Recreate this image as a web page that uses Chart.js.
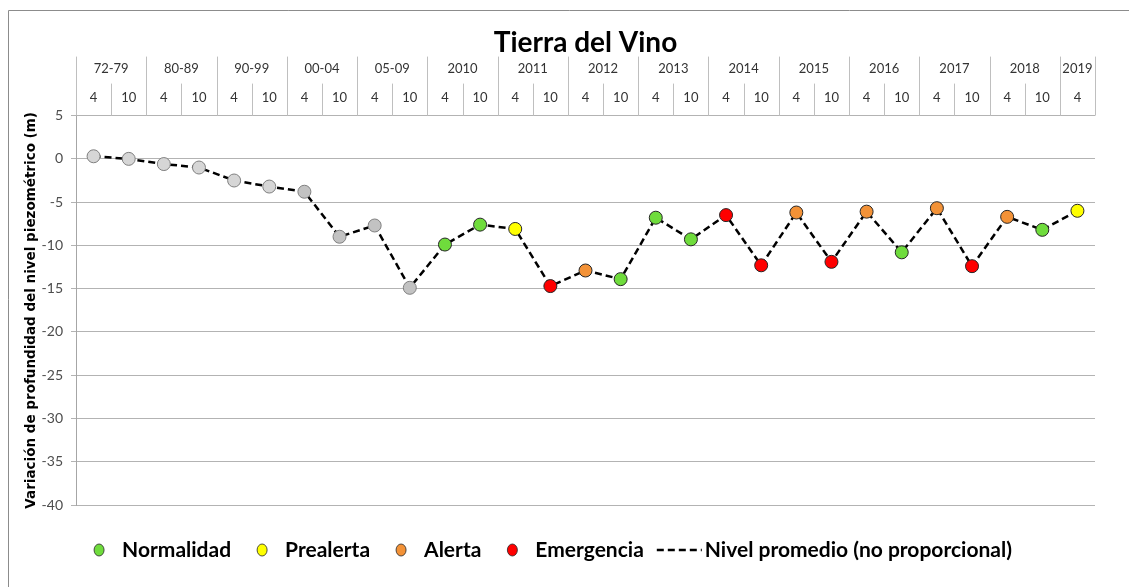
<!DOCTYPE html>
<html>
<head>
<meta charset="utf-8">
<script src="https://cdn.jsdelivr.net/npm/chart.js@4.4.1/dist/chart.umd.min.js"></script>
<style>
  html, body { margin: 0; padding: 0; background: #fff; }
  #wrap { position: relative; width: 1129px; height: 587px; }
</style>
</head>
<body>
<div id="wrap"><canvas id="chart"></canvas></div>
<script>
// Periodo (fila superior de la cabecera) y mes de medida de cada punto
const periodos = ['72-79','72-79','80-89','80-89','90-99','90-99','00-04','00-04','05-09','05-09',
  '2010','2010','2011','2011','2012','2012','2013','2013','2014','2014',
  '2015','2015','2016','2016','2017','2017','2018','2018','2019'];
const meses = ['4','10','4','10','4','10','4','10','4','10',
  '4','10','4','10','4','10','4','10','4','10',
  '4','10','4','10','4','10','4','10','4'];

// Variación de profundidad del nivel piezométrico (m)
const nivel = [0.3, 0.0, -0.6, -1.0, -2.5, -3.2, -3.8, -9.0, -7.7, -14.9,
  -9.9, -7.6, -8.1, -14.7, -12.9, -13.9, -6.8, -9.3, -6.5, -12.3,
  -6.2, -11.9, -6.1, -10.8, -5.7, -12.4, -6.7, -8.2, -6.0];

// Estado de cada medida (null = sin índice de estado)
const estado = [null, null, null, null, null, null, null, null, null, null,
  'Normalidad', 'Normalidad', 'Prealerta', 'Emergencia', 'Alerta', 'Normalidad', 'Normalidad', 'Normalidad', 'Emergencia', 'Emergencia',
  'Alerta', 'Emergencia', 'Alerta', 'Normalidad', 'Alerta', 'Emergencia', 'Alerta', 'Normalidad', 'Prealerta'];

const estados = ['Normalidad', 'Prealerta', 'Alerta', 'Emergencia'];
const coloresEstado = ['#6fdc3c', '#ffff00', '#f39237', '#ff0000'];
const etiquetaLinea = 'Nivel promedio (no proporcional)';

const relleno = estado.map((e, i) => e ? coloresEstado[estados.indexOf(e)] : (i < 6 ? '#d6d6d6' : '#c2c2c2'));
const borde = estado.map(e => e ? '#262626' : '#7f7f7f');

const FONT = 'Lato, "Open Sans", sans-serif';

// Marco exterior del gráfico
const marco = {
  id: 'marco',
  beforeDraw(chart) {
    const ctx = chart.ctx;
    ctx.save();
    ctx.strokeStyle = '#8c8c8c';
    ctx.lineWidth = 1;
    ctx.beginPath();
    ctx.moveTo(8.5, chart.height + 5);
    ctx.lineTo(8.5, 10.5);
    ctx.lineTo(chart.width + 5, 10.5);
    ctx.stroke();
    ctx.restore();
  }
};

// Cabecera de dos filas (periodo / mes) sobre el área de trazado
const cabecera = {
  id: 'cabecera',
  afterDraw(chart) {
    const { ctx, chartArea, scales: { x } } = chart;
    const top = chartArea.top - 59, mid = chartArea.top - 32, bot = chartArea.top;
    const half = (x.getPixelForValue(1) - x.getPixelForValue(0)) / 2;
    ctx.save();
    ctx.strokeStyle = '#bfbfbf';
    ctx.lineWidth = 1;
    ctx.fillStyle = '#333';
    ctx.font = '13px ' + FONT;
    ctx.textAlign = 'center';
    ctx.textBaseline = 'middle';
    let inicio = 0;
    for (let i = 0; i < meses.length; i++) {
      const cx = x.getPixelForValue(i);
      const l = Math.round(cx - half) + 0.5;
      ctx.beginPath();
      ctx.moveTo(l, periodos[i] !== periodos[i - 1] ? top : mid);
      ctx.lineTo(l, bot);
      ctx.stroke();
      ctx.fillText(meses[i], cx, mid + 14);
      if (i === meses.length - 1 || periodos[i + 1] !== periodos[i]) {
        const gx = (x.getPixelForValue(inicio) + cx) / 2;
        ctx.fillText(periodos[i], gx, top + 12);
        inicio = i + 1;
      }
    }
    const r = Math.round(x.getPixelForValue(meses.length - 1) + half) + 0.5;
    ctx.beginPath();
    ctx.moveTo(r, top);
    ctx.lineTo(r, bot);
    ctx.stroke();
    ctx.restore();
  }
};

// Leyenda inferior
const leyenda = {
  id: 'leyenda',
  afterDraw(chart) {
    const ctx = chart.ctx;
    const y = 550;
    ctx.save();
    ctx.font = 'bold 21px ' + FONT;
    ctx.textBaseline = 'middle';
    ctx.fillStyle = '#000';
    const anchos = estados.map(t => 23 + ctx.measureText(t).width + 31);
    const anchoLinea = 48 + ctx.measureText(etiquetaLinea).width;
    const total = anchos.reduce((a, b) => a + b, 0) + anchoLinea;
    let px = chart.width / 2 - total / 2;
    estados.forEach((t, k) => {
      ctx.beginPath();
      ctx.ellipse(px, y, 5, 6, 0, 0, Math.PI * 2);
      ctx.fillStyle = coloresEstado[k];
      ctx.fill();
      ctx.strokeStyle = '#262626';
      ctx.lineWidth = 0.8;
      ctx.stroke();
      ctx.fillStyle = '#000';
      ctx.fillText(t, px + 23, y);
      px += anchos[k];
    });
    px -= 18;
    ctx.strokeStyle = '#000';
    ctx.lineWidth = 2.5;
    ctx.setLineDash([7, 4]);
    ctx.beginPath();
    ctx.moveTo(px, y);
    ctx.lineTo(px + 45, y);
    ctx.stroke();
    ctx.setLineDash([]);
    ctx.fillText(etiquetaLinea, px + 48, y);
    ctx.restore();
  }
};

new Chart(document.getElementById('chart'), {
  type: 'line',
  data: {
    labels: meses.map((m, i) => periodos[i] + ' ' + m),
    datasets: [{
      label: etiquetaLinea,
      data: nivel,
      borderColor: '#000',
      borderWidth: 2.5,
      borderDash: [7, 4],
      tension: 0,
      pointRadius: 6.5,
      pointHoverRadius: 6.5,
      pointBackgroundColor: relleno,
      pointBorderColor: borde,
      pointBorderWidth: 1
    }]
  },
  options: {
    responsive: true,
    maintainAspectRatio: false,
    animation: false,
    layout: { padding: { left: 14, right: 34, top: 0, bottom: 82 } },
    plugins: {
      legend: { display: false },
      tooltip: { enabled: false },
      title: {
        display: true,
        fullSize: false,
        text: 'Tierra del Vino',
        color: '#000',
        font: { family: FONT, size: 28, weight: 'bold' },
        padding: { top: 26, bottom: 56 }
      }
    },
    scales: {
      x: {
        type: 'category',
        display: false,
        offset: true
      },
      y: {
        min: -40,
        max: 5,
        afterFit: s => { s.width = 62; },
        ticks: {
          stepSize: 5,
          color: '#4d4d4d',
          padding: 8,
          font: { family: FONT, size: 14 }
        },
        grid: { color: '#b3b3b3', tickLength: 5 },
        border: { color: '#a6a6a6' },
        title: {
          display: true,
          text: 'Variación de profundidad del nivel piezométrico (m)',
          color: '#000',
          padding: { top: 9, bottom: 0 },
          font: { family: '"DejaVu Sans", sans-serif', size: 13.5, weight: 'bold' }
        }
      }
    }
  },
  plugins: [marco, cabecera, leyenda]
});
</script>
</body>
</html>
